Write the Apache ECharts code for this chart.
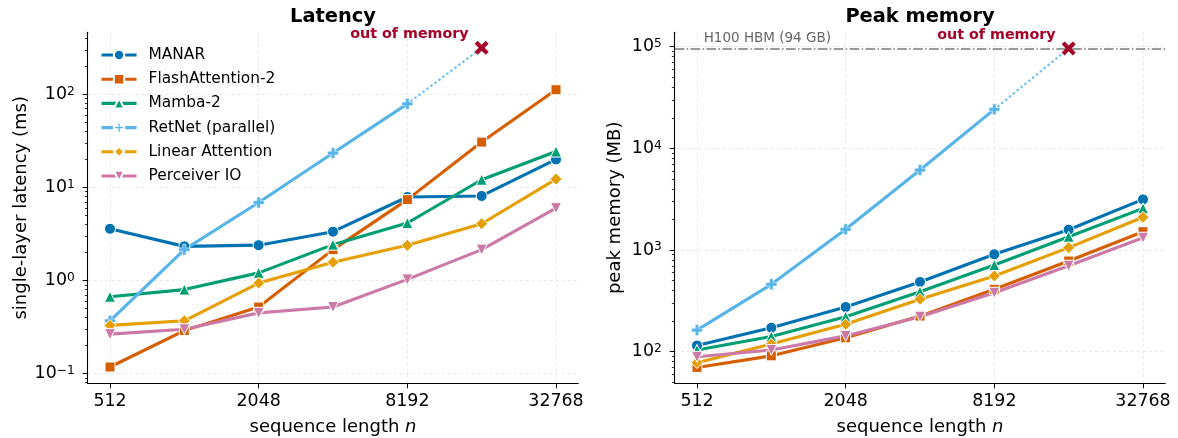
<!DOCTYPE html>
<html><head><meta charset="utf-8">
<script src="https://cdn.jsdelivr.net/npm/echarts@6/dist/echarts.min.js"></script>
<style>html,body{margin:0;padding:0;background:#fff}#c{width:1178px;height:438px}</style>
</head><body><div id="c"></div>
<script>
// ---------------- data ----------------
const seqLen = [512, 1024, 2048, 4096, 8192, 16384, 32768];
const xTickLabels = [512, 2048, 8192, 32768];
const seriesNames = ['MANAR', 'FlashAttention-2', 'Mamba-2', 'RetNet (parallel)', 'Linear Attention', 'Perceiver IO'];

// single-layer latency (ms)
const latManar     = [3.6, 2.33, 2.4, 3.35, 7.9, 8.1, 20];
const latFlash     = [0.118, 0.29, 0.52, 2.15, 7.4, 30.7, 112];
const latMamba     = [0.67, 0.80, 1.21, 2.43, 4.15, 12.1, 24.3];
const latRetnet    = [0.37, 2.15, 6.9, 23.4, 79];
const latLinear    = [0.33, 0.37, 0.94, 1.57, 2.39, 4.08, 12.3];
const latPerceiver = [0.266, 0.30, 0.45, 0.52, 1.03, 2.15, 6.0];

// peak memory (MB)
const memManar     = [115, 172, 275, 485, 908, 1585, 3150];
const memFlash     = [70, 91, 137, 224, 411, 780, 1515];
const memMamba     = [104, 141, 221, 389, 713, 1352, 2570];
const memRetnet    = [163, 460, 1600, 6120, 24200];
const memLinear    = [78, 119, 186, 328, 556, 1055, 2100];
const memPerceiver = [89, 104, 143, 221, 380, 701, 1321];

// out-of-memory point (RetNet at 16384)
const oomSeqLen = 16384;
const latOOM = 316;
const memOOM = 96256;
const hbmLimitMB = 96256;   // H100 HBM (94 GB)

const latTickExp = [-1, 0, 1, 2];
const memTickExp = [2, 3, 4, 5];

// ---------------- styling ----------------
const FONT = 'DejaVu Sans';
const colors = ['#0072B2', '#D55E00', '#009E73', '#56B4E9', '#E69F00', '#CC79A7'];
const oomColor = '#A50026';
const plusPath = 'path://M3.4,0 H6.6 V3.4 H10 V6.6 H6.6 V10 H3.4 V6.6 H0 V3.4 H3.4 Z';
const xPath = 'path://M0,2.1 L2.1,0 L5,2.9 L7.9,0 L10,2.1 L7.1,5 L10,7.9 L7.9,10 L5,7.1 L2.1,10 L0,7.9 L2.9,5 Z';
const symbols = ['circle', 'rect', 'triangle', plusPath, 'diamond', 'triangle'];
const symRot = [0, 0, 0, 0, 0, 180];
const symSize = [11, 10, 11, 11, 12, 11];

const latData = [latManar, latFlash, latMamba, latRetnet, latLinear, latPerceiver];
const memData = [memManar, memFlash, memMamba, memRetnet, memLinear, memPerceiver];

const L2 = Math.log2, L10 = Math.log10;
function pts(vals) { return vals.map((v, i) => [L2(seqLen[i]), L10(v)]); }
function minorLogs(lo, hi) {
  const out = [];
  for (let d = Math.floor(lo); d <= Math.ceil(hi); d++)
    for (let k = 2; k <= 9; k++) { const l = d + L10(k); if (l > lo && l < hi) out.push(l); }
  return out;
}
function supLabel(v) {
  const e = Math.round(v);
  return '{a|10}{b|' + (e < 0 ? '\u2212' + (-e) : e) + '}';
}
const xMin = 8.7, xMax = 15.3;
const latMin = -1.103, latMax = 2.666;
const memMin = 1.689, memMax = 5.142;

const gridLine = { show: true, lineStyle: { color: '#e3e3e3', width: 0.8, type: [3, 3] } };

function makeX(gi) {
  return {
    type: 'value', gridIndex: gi, min: xMin, max: xMax,
    axisLine: { show: true, onZero: false, lineStyle: { color: '#000', width: 1.1 } },
    axisTick: { show: true, length: 5, lineStyle: { color: '#000', width: 1 }, customValues: xTickLabels.map(L2) },
    axisLabel: { show: true, customValues: xTickLabels.map(L2), formatter: v => String(Math.round(Math.pow(2, v))),
                 fontSize: 17.4, color: '#000', fontFamily: FONT, margin: 10 },
    splitLine: gridLine,
    name: 'sequence length {i|n}', nameLocation: 'middle', nameGap: 35,
    nameTextStyle: { fontSize: 18, color: '#000', fontFamily: FONT,
                     rich: { i: { fontStyle: 'italic', fontSize: 18, fontFamily: FONT, color: '#000' } } }
  };
}
function makeYMain(gi, lo, hi, exps, name, gap) {
  return {
    type: 'value', gridIndex: gi, min: lo, max: hi, position: 'left',
    axisLine: { show: true, onZero: false, lineStyle: { color: '#000', width: 1.1 } },
    axisTick: { show: true, length: 5, lineStyle: { color: '#000', width: 1 }, customValues: exps },
    axisLabel: { show: true, customValues: exps, formatter: supLabel, margin: 13, color: '#000',
                 rich: { a: { fontSize: 17.4, fontFamily: FONT, color: '#000', lineHeight: 17.4, verticalAlign: 'bottom' },
                         b: { fontSize: 12.2, fontFamily: FONT, color: '#000', lineHeight: 12.2, verticalAlign: 'top', padding: [0, 0, 8, 0] } } },
    splitLine: gridLine,
    name: name, nameLocation: 'middle', nameRotate: 90, nameGap: gap,
    nameTextStyle: { fontSize: 18, color: '#000', fontFamily: FONT }
  };
}
function makeYMinor(gi, lo, hi) {
  return {
    type: 'value', gridIndex: gi, min: lo, max: hi, position: 'left', offset: 0,
    axisLine: { show: false },
    axisTick: { show: true, length: 2.8, lineStyle: { color: '#000', width: 0.8 }, customValues: minorLogs(lo, hi) },
    axisLabel: { show: false, customValues: [] },
    splitLine: { show: false }
  };
}

const series = [];
[latData, memData].forEach((dataset, p) => {
  dataset.forEach((vals, i) => {
    series.push({
      type: 'line', name: seriesNames[i], xAxisIndex: p, yAxisIndex: p * 2,
      data: pts(vals), symbol: symbols[i], symbolRotate: symRot[i], symbolSize: symSize[i],
      showSymbol: true, animation: false,
      lineStyle: { color: colors[i], width: 3.1 },
      itemStyle: { color: colors[i], borderColor: '#fff', borderWidth: i === 3 ? 0.5 : 1 },
      emphasis: { disabled: true }, z: 3
    });
  });
  const last = p === 0 ? latRetnet : memRetnet;
  const oom = p === 0 ? latOOM : memOOM;
  const ext = {
    type: 'line', name: 'oom-ext-' + p, xAxisIndex: p, yAxisIndex: p * 2,
    data: [[L2(seqLen[last.length - 1]), L10(last[last.length - 1])], [L2(oomSeqLen), L10(oom)]],
    showSymbol: false, symbol: 'none', animation: false, z: 2,
    lineStyle: { color: '#56B4E9', opacity: 0.8, width: 2.4, type: [0.5, 4.5], cap: 'round' }
  };
  if (p === 1) {
    ext.markLine = {
      silent: true, symbol: ['none', 'none'], animation: false,
      lineStyle: { color: '#7a7a7a', width: 1.6, type: [9.6, 2.4, 1.5, 2.4] },
      label: { show: true, position: 'insideStartTop', formatter: 'H100 HBM (94 GB)', color: '#666',
               fontSize: 13.5, fontFamily: FONT, padding: [0, 0, 0, 26], distance: 3 },
      data: [{ yAxis: L10(hbmLimitMB) }]
    };
  }
  series.push(ext);
  series.push({
    type: 'scatter', name: 'oom-' + p, xAxisIndex: p, yAxisIndex: p * 2,
    data: [[L2(oomSeqLen), L10(oom)]], symbol: xPath, symbolSize: 14, animation: false, z: 5,
    itemStyle: { color: oomColor, opacity: 1 },
    emphasis: { disabled: true },
    label: { show: true, position: 'left', distance: 6, offset: [0, -13], formatter: 'out of memory',
             color: oomColor, fontWeight: 'bold', fontSize: 14.3, fontFamily: FONT }
  });
});

const chart = echarts.init(document.getElementById('c'), null, { renderer: 'canvas' });
chart.setOption({
  animation: false,
  backgroundColor: '#fff',
  textStyle: { fontFamily: FONT },
  grid: [
    { left: 87.7, top: 32.3, width: 490.6, height: 351, outerBoundsMode: 'none', containLabel: false },
    { left: 674.7, top: 32.3, width: 490.6, height: 351, outerBoundsMode: 'none', containLabel: false }
  ],
  xAxis: [makeX(0), makeX(1)],
  yAxis: [
    makeYMain(0, latMin, latMax, latTickExp, 'single-layer latency (ms)', 54),
    makeYMinor(0, latMin, latMax),
    makeYMain(1, memMin, memMax, memTickExp, 'peak memory (MB)', 50),
    makeYMinor(1, memMin, memMax)
  ],
  legend: {
    data: seriesNames, left: 100, top: 47, orient: 'vertical', padding: 0,
    itemWidth: 35, itemHeight: 13, itemGap: 8.2, selectedMode: false,
    lineStyle: { width: 3.1 },
    textStyle: { fontSize: 15.4, fontFamily: FONT, color: '#000', lineHeight: 16, padding: [0, 0, 0, 7] }
  },
  graphic: [
    { type: 'text', x: 333, y: 16.5, style: { text: 'Latency', textAlign: 'center', textVerticalAlign: 'middle',
      fontSize: 19.4, fontWeight: 'bold', fontFamily: FONT, fill: '#000' } },
    { type: 'text', x: 920, y: 16.5, style: { text: 'Peak memory', textAlign: 'center', textVerticalAlign: 'middle',
      fontSize: 19.4, fontWeight: 'bold', fontFamily: FONT, fill: '#000' } }
  ],
  series: series
});
</script></body></html>
